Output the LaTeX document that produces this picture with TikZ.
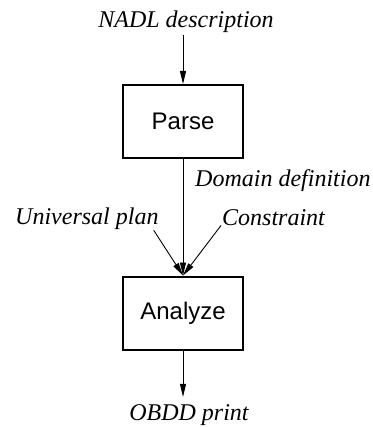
\documentclass[tikz,border=0pt]{standalone}
\usepackage{fontspec}
\setmainfont{Liberation Serif}
\setsansfont{Liberation Sans}
\usetikzlibrary{arrows.meta,calc}
\begin{document}
\begin{tikzpicture}[x=1pt,y=-1pt,
  flow/.style={line width=0.9pt,-{Triangle[length=13pt,width=6pt]}},
  stage/.style={draw,line width=2pt,minimum width=120pt,minimum height=73pt,
    inner sep=0pt,font=\sffamily\fontsize{24}{28}\selectfont},
  datum/.style={inner sep=2pt,font=\itshape\fontsize{24}{28}\selectfont}]
  \useasboundingbox (0,0) rectangle (372,427);

  % processing stages
  \node[stage] (parse)   at (183,121.5) {Parse};
  \node[stage] (analyze) at (183,313)   {Analyze};

  % data flowing in and out
  \node[datum,anchor=base]      (nadl)   at (186,28)  {NADL description};
  \node[datum,anchor=base west] (domain) at (193,187) {Domain definition};
  \node[datum,anchor=base west] (univ)   at (13,224)  {Universal plan};
  \node[datum,anchor=base west] (constr) at (220,225) {Constraint};
  \node[datum,anchor=base]      (obdd)   at (189,420) {OBDD print};

  \coordinate (univout)   at ($(univ.south east)+(-7,-1)$);
  \coordinate (constrout) at ($(constr.south west)+(1,-2)$);

  \draw[flow] (nadl.south -| parse.north) -- (parse.north);
  \draw[flow] (parse.south) -- (analyze.north);
  \draw[flow] (univout) -- (analyze.north);
  \draw[flow] (constrout) -- (analyze.north);
  \draw[flow,shorten >=5pt] (analyze.south) -- (analyze.south |- obdd.north);
\end{tikzpicture}
\end{document}
